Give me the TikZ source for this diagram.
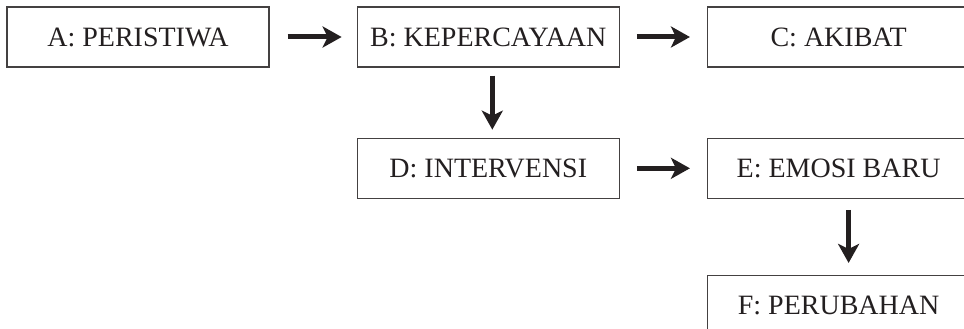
\documentclass[tikz,border=0pt]{standalone}
\usepackage{fontspec}
\setmainfont{Liberation Serif}
\usetikzlibrary{positioning,arrows.meta}
\definecolor{ink}{HTML}{231F20}
\begin{document}
\begin{tikzpicture}[
        x=1pt,y=1pt,
        box/.style={draw=ink!85,line width=1.3pt,text=ink,minimum height=60pt,
            minimum width=262pt,inner sep=0pt,font=\fontsize{28}{30}\selectfont},
        flow/.style={draw=ink,line width=5pt,-{Stealth[length=19pt,width=21pt,inset=5pt]}},
        ]
    \useasboundingbox (0,0) rectangle (964,-329);
    % first row
    \node [box] (a) at (138,-37) {A: PERISTIWA};
    \node [box, right=87pt of a] (b) {B: KEPERCAYAAN};
    \node [box, right=87pt of b] (c) {C: AKIBAT};
    % second row
    \node [box, below=70pt of b] (d) {D: INTERVENSI};
    \node [box, right=87pt of d] (e) {E: EMOSI BARU};
    % last row
    \node [box, below=76pt of e] (f) {F: PERUBAHAN};
    % arrows
    \draw [flow, shorten <=18pt, shorten >=15pt] (a) -- (b);
    \draw [flow, shorten <=17pt, shorten >=17pt] (b) -- (c);
    \draw [flow, shorten <=8pt, shorten >=8pt] ([xshift=4pt]b.south) -- ([xshift=4pt]d.north);
    \draw [flow, shorten <=17pt, shorten >=17pt] (d) -- (e);
    \draw [flow, shorten <=11pt, shorten >=12pt] ([xshift=10pt]e.south) -- ([xshift=10pt]f.north);
\end{tikzpicture}
\end{document}
